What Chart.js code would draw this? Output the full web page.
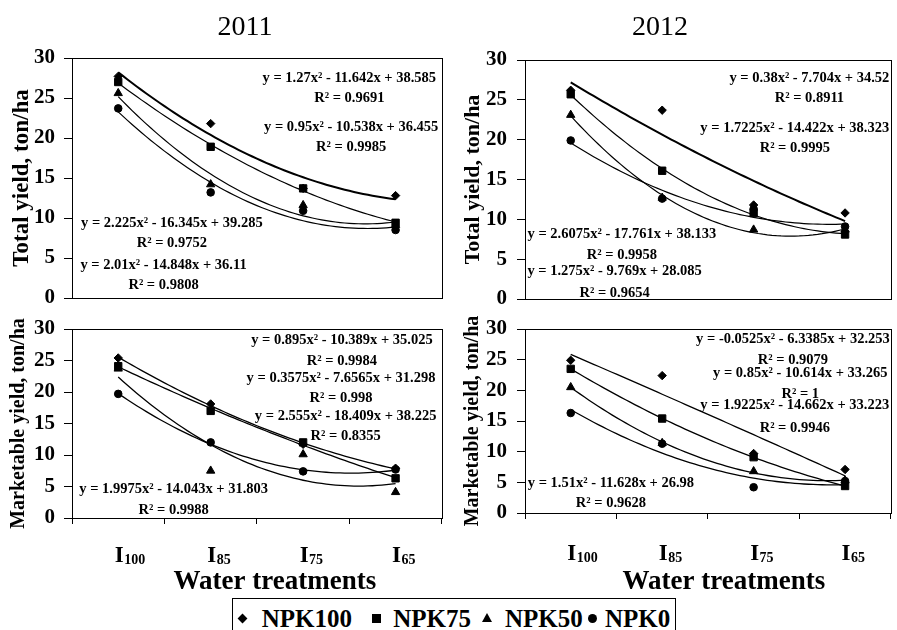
<!DOCTYPE html>
<html>
<head>
<meta charset="utf-8">
<script src="https://cdn.jsdelivr.net/npm/chart.js@4.4.0/dist/chart.umd.min.js"></script>
<style>
  body { margin: 0; background: #fff; }
  #wrap { position: relative; width: 897px; height: 630px; overflow: hidden; }
  canvas { position: absolute; }
  #legend { position: absolute; left: 232px; top: 598px; width: 444px; height: 44px;
            border: 1px solid #000; background: #fff; box-sizing: border-box;
            font: bold 25px 'Liberation Serif', 'Times New Roman', serif; color: #000; }
  #legend span { position: absolute; }
  .sym { background: #000; }
</style>
</head>
<body>
<div id="wrap">
  <canvas id="c2011t" width="448" height="312" style="left:0;top:0"></canvas>
  <canvas id="c2012t" width="449" height="312" style="left:448px;top:0"></canvas>
  <canvas id="c2011m" width="448" height="318" style="left:0;top:312px"></canvas>
  <canvas id="c2012m" width="449" height="318" style="left:448px;top:312px"></canvas>
  <div id="legend"></div>
</div>
<script>
const SERIF = "'Liberation Serif', 'Times New Roman', serif";

// categories (water treatments) and series (fertilizer levels)
const treatments = ['I100', 'I85', 'I75', 'I65'];
const xPos = [1, 2, 3, 4];
const xTickMarks = [0.5, 1.5, 2.5, 3.5, 4.5];
const yTicks = [0, 5, 10, 15, 20, 25, 30];
const seriesNames = ['NPK100', 'NPK75', 'NPK50', 'NPK0'];

// total yield 2011, rows = NPK100, NPK75, NPK50, NPK0
const total2011 = [
  [27.7, 21.8, 13.7, 12.8],
  [27.0, 18.9, 13.7, 9.4],
  [25.6, 14.2, 11.6, 9.1],
  [23.7, 13.2, 10.9, 8.5]
];
const total2011Fit = [[1.27, -11.642, 38.585], [0.95, -10.538, 36.455], [2.225, -16.345, 39.285], [2.01, -14.848, 36.11]];
const total2011R2 = [0.9691, 0.9985, 0.9752, 0.9808];

// total yield 2012
const total2012 = [
  [26.2, 23.7, 11.8, 10.8],
  [25.7, 16.1, 10.8, 8.1],
  [23.1, 12.7, 8.7, 8.7],
  [19.9, 12.6, 11.3, 9.1]
];
const total2012Fit = [[0.38, -7.704, 34.52], [1.7225, -14.422, 38.323], [2.6075, -17.761, 38.133], [1.275, -9.769, 28.085]];
const total2012R2 = [0.8911, 0.9995, 0.9958, 0.9654];

// marketable yield 2011
const market2011 = [
  [25.4, 18.1, 11.7, 7.9],
  [24.1, 17.0, 12.0, 6.3],
  [23.7, 7.5, 10.1, 4.1],
  [19.7, 12.0, 7.4, 7.7]
];
const market2011Fit = [[0.895, -10.389, 35.025], [0.3575, -7.6565, 31.298], [2.555, -18.409, 38.225], [1.9975, -14.043, 31.803]];
const market2011R2 = [0.9984, 0.998, 0.8355, 0.9988];

// marketable yield 2012
const market2012 = [
  [24.9, 22.4, 9.7, 7.1],
  [23.5, 15.4, 9.1, 4.4],
  [20.5, 11.4, 6.8, 5.3],
  [16.3, 11.3, 4.2, 5.2]
];
const market2012Fit = [[-0.0525, -6.3385, 32.253], [0.85, -10.614, 33.265], [1.9225, -14.662, 33.223], [1.51, -11.628, 26.98]];
const market2012R2 = [0.9079, 1, 0.9946, 0.9628];

// where the equation labels sit: [x, y of equation, y of R2] in axis units
const labels2011t = [[3.50, 27.04, 24.54], [3.52, 20.91, 18.41], [1.58, 8.91, 6.41], [1.49, 3.59, 1.09]];
const labels2012t = [[3.61, 27.26, 24.76], [3.45, 20.92, 18.41], [1.56, 7.62, 4.98], [1.48, 3.01, 0.29]];
const labels2011m = [[3.42, 27.62, 24.29], [3.41, 21.63, 18.46], [3.46, 15.56, 12.38], [1.60, 3.92, 0.63]];
const labels2012m = [[3.43, 27.68, 24.31], [3.51, 22.23, 18.71], [3.45, 16.97, 13.26], [1.44, 4.19, 0.93]];

const markers = ['rectRot', 'rect', 'triangle', 'circle'];
const markerSize = [4.2, 5.2, 4.8, 3.8];

// trend curve from the equation printed on the chart
function curve(f) {
  const pts = [];
  for (let x = xPos[0]; x <= xPos[xPos.length - 1] + 1e-9; x += 0.05) {
    pts.push({ x: x, y: f[0] * x * x + f[1] * x + f[2] });
  }
  return pts;
}

function eqText(f) {
  const sign = v => (v < 0 ? '- ' : '+ ') + Math.abs(v);
  return `y = ${f[0]}x² ${sign(f[1])}x ${sign(f[2])}`;
}

const decor = {
  id: 'decor',
  afterDatasetsDraw(chart, args, o) {
    const { ctx, chartArea: a, scales: { x, y } } = chart;
    ctx.save();
    ctx.strokeStyle = '#000';
    ctx.lineWidth = 1;
    const l = Math.round(a.left) + 0.5, t = Math.round(a.top) + 0.5;
    ctx.strokeRect(l, t, Math.round(a.right) - Math.round(a.left), Math.round(a.bottom) - Math.round(a.top));

    ctx.fillStyle = '#000';
    ctx.textBaseline = 'alphabetic';
    ctx.textAlign = 'center';
    ctx.font = `bold 14.5px ${SERIF}`;
    o.fits.forEach((f, i) => {
      const p = o.pos[i];
      const px = x.getPixelForValue(p[0]);
      ctx.fillText(eqText(f), px, y.getPixelForValue(p[1]));
      ctx.fillText('R² = ' + o.r2[i], px, y.getPixelForValue(p[2]));
    });

    if (o.year) {
      ctx.font = `28px ${SERIF}`;
      ctx.fillText(o.year, o.yearX, 35);
    }

    if (o.xLab) {
      treatments.forEach((tr, i) => {
        const cx = x.getPixelForValue(xPos[i]) + 1;
        const main = tr[0], sub = tr.slice(1);
        const base = a.bottom + o.xLab.dy;
        ctx.textAlign = 'left';
        ctx.font = `bold 23px ${SERIF}`;
        const wm = ctx.measureText(main).width;
        ctx.fillText(main, cx - wm / 2, base);
        ctx.font = `bold 14px ${SERIF}`;
        ctx.fillText(sub, cx + wm / 2 + 0.5, base + 2);
      });
      ctx.textAlign = 'center';
      ctx.font = `bold 27px ${SERIF}`;
      ctx.fillText('Water treatments', (a.left + a.right) / 2 + o.xLab.titleDx, a.bottom + o.xLab.titleDy);
    }
    ctx.restore();
  }
};

function makePanel(id, cfg) {
  const datasets = [];
  cfg.values.forEach((vals, i) => {
    datasets.push({
      label: seriesNames[i],
      data: vals.map((v, j) => ({ x: xPos[j], y: v })),
      pointStyle: markers[i],
      pointRadius: markerSize[i],
      backgroundColor: '#000',
      borderColor: '#000',
      borderWidth: 1,
      showLine: false,
      order: 0
    });
  });
  cfg.fits.forEach((f, i) => {
    datasets.push({
      label: seriesNames[i] + ' trend',
      data: curve(f),
      showLine: true,
      pointRadius: 0,
      borderColor: '#000',
      borderWidth: cfg.lineW[i],
      order: 1
    });
  });

  return new Chart(document.getElementById(id), {
    type: 'scatter',
    data: { datasets },
    plugins: [decor],
    options: {
      responsive: false,
      animation: false,
      devicePixelRatio: 1,
      layout: { padding: cfg.padding },
      plugins: {
        legend: { display: false },
        tooltip: { enabled: false },
        decor: { fits: cfg.fits, r2: cfg.r2, pos: cfg.pos, year: cfg.year, yearX: cfg.yearX, xLab: cfg.xLab }
      },
      scales: {
        x: {
          type: 'linear', min: 0.5, max: 4.5,
          afterBuildTicks: s => { s.ticks = xTickMarks.map(v => ({ value: v })); },
          ticks: { display: false },
          grid: { display: cfg.xTicks, drawOnChartArea: false, drawTicks: true, tickLength: 6, color: '#000' },
          border: { display: false },
          afterFit: s => { s.height = cfg.xHeight; s.paddingLeft = 0; s.paddingRight = 0; }
        },
        y: {
          min: 0, max: 30,
          afterBuildTicks: s => { s.ticks = yTicks.map(v => ({ value: v })); },
          ticks: { color: '#000', padding: cfg.tickPad, font: { family: SERIF, size: 21, weight: 'bold' } },
          grid: { drawOnChartArea: false, tickLength: 8, color: '#000' },
          border: { display: false },
          title: {
            display: true, text: cfg.yTitle, color: '#000',
            font: { family: SERIF, size: cfg.yTitleSize, weight: 'bold' },
            padding: { top: cfg.yTitlePad, bottom: 0 }
          },
          // fixed axis width, and keep the end labels from pushing the plot area
          afterFit: s => { s.width = cfg.yWidth; s.paddingTop = 0; s.paddingBottom = 0; }
        }
      }
    }
  });
}

makePanel('c2011t', {
  values: total2011, fits: total2011Fit, r2: total2011R2, pos: labels2011t,
  lineW: [2, 1.2, 1.2, 1.2], year: '2011', yearX: 245,
  padding: { top: 58, right: 3, left: 0, bottom: 0 }, xHeight: 14, xTicks: false,
  yWidth: 72, tickPad: 9, yTitle: 'Total yield, ton/ha', yTitleSize: 23, yTitlePad: 8
});
makePanel('c2012t', {
  values: total2012, fits: total2012Fit, r2: total2012R2, pos: labels2012t,
  lineW: [2, 1.2, 1.2, 1.2], year: '2012', yearX: 212,
  padding: { top: 60, right: 1.5, left: 0, bottom: 0 }, xHeight: 13, xTicks: false,
  yWidth: 77, tickPad: 10, yTitle: 'Total yield, ton/ha', yTitleSize: 22, yTitlePad: 12
});
makePanel('c2011m', {
  values: market2011, fits: market2011Fit, r2: market2011R2, pos: labels2011m,
  lineW: [1.3, 1.3, 1.3, 1.3],
  padding: { top: 17, right: 3, left: 0, bottom: 0 }, xHeight: 112, xTicks: true,
  xLab: { dy: 43.5, titleDx: 18, titleDy: 71 },
  yWidth: 72, tickPad: 9, yTitle: 'Marketable yield, ton/ha', yTitleSize: 20, yTitlePad: 7
});
makePanel('c2012m', {
  values: market2012, fits: market2012Fit, r2: market2012R2, pos: labels2012m,
  lineW: [1.3, 1.3, 1.3, 1.3],
  padding: { top: 17, right: 1.5, left: 0, bottom: 0 }, xHeight: 117, xTicks: true,
  xLab: { dy: 47, titleDx: 16, titleDy: 76 },
  yWidth: 77, tickPad: 10, yTitle: 'Marketable yield, ton/ha', yTitleSize: 20, yTitlePad: 13
});

// legend below the panels (page x of symbol centre and of text start)
const legendSym = [242, 376, 487, 592.5];
const legendText = [261.7, 393.3, 505, 605];
const legend = document.getElementById('legend');
seriesNames.forEach((name, i) => {
  const sym = document.createElement('span');
  const cx = legendSym[i] - 233, cy = 618 - 599;
  if (markers[i] === 'rectRot') {
    sym.className = 'sym';
    Object.assign(sym.style, { width: '7px', height: '7px', left: (cx - 3.5) + 'px', top: (cy - 3.5) + 'px', transform: 'rotate(45deg)' });
  } else if (markers[i] === 'rect') {
    sym.className = 'sym';
    Object.assign(sym.style, { width: '9px', height: '9px', left: (cx - 4.5) + 'px', top: (cy - 4.5) + 'px' });
  } else if (markers[i] === 'triangle') {
    Object.assign(sym.style, { width: 0, height: 0, left: (cx - 5) + 'px', top: (cy - 5) + 'px',
      borderLeft: '5px solid transparent', borderRight: '5px solid transparent', borderBottom: '9px solid #000' });
  } else {
    sym.className = 'sym';
    Object.assign(sym.style, { width: '9px', height: '9px', left: (cx - 4.5) + 'px', top: (cy - 4.5) + 'px', borderRadius: '50%' });
  }
  legend.appendChild(sym);
  const txt = document.createElement('span');
  txt.textContent = name;
  Object.assign(txt.style, { left: (legendText[i] - 233) + 'px', top: '7px', lineHeight: '25px' });
  legend.appendChild(txt);
});
</script>
</body>
</html>
